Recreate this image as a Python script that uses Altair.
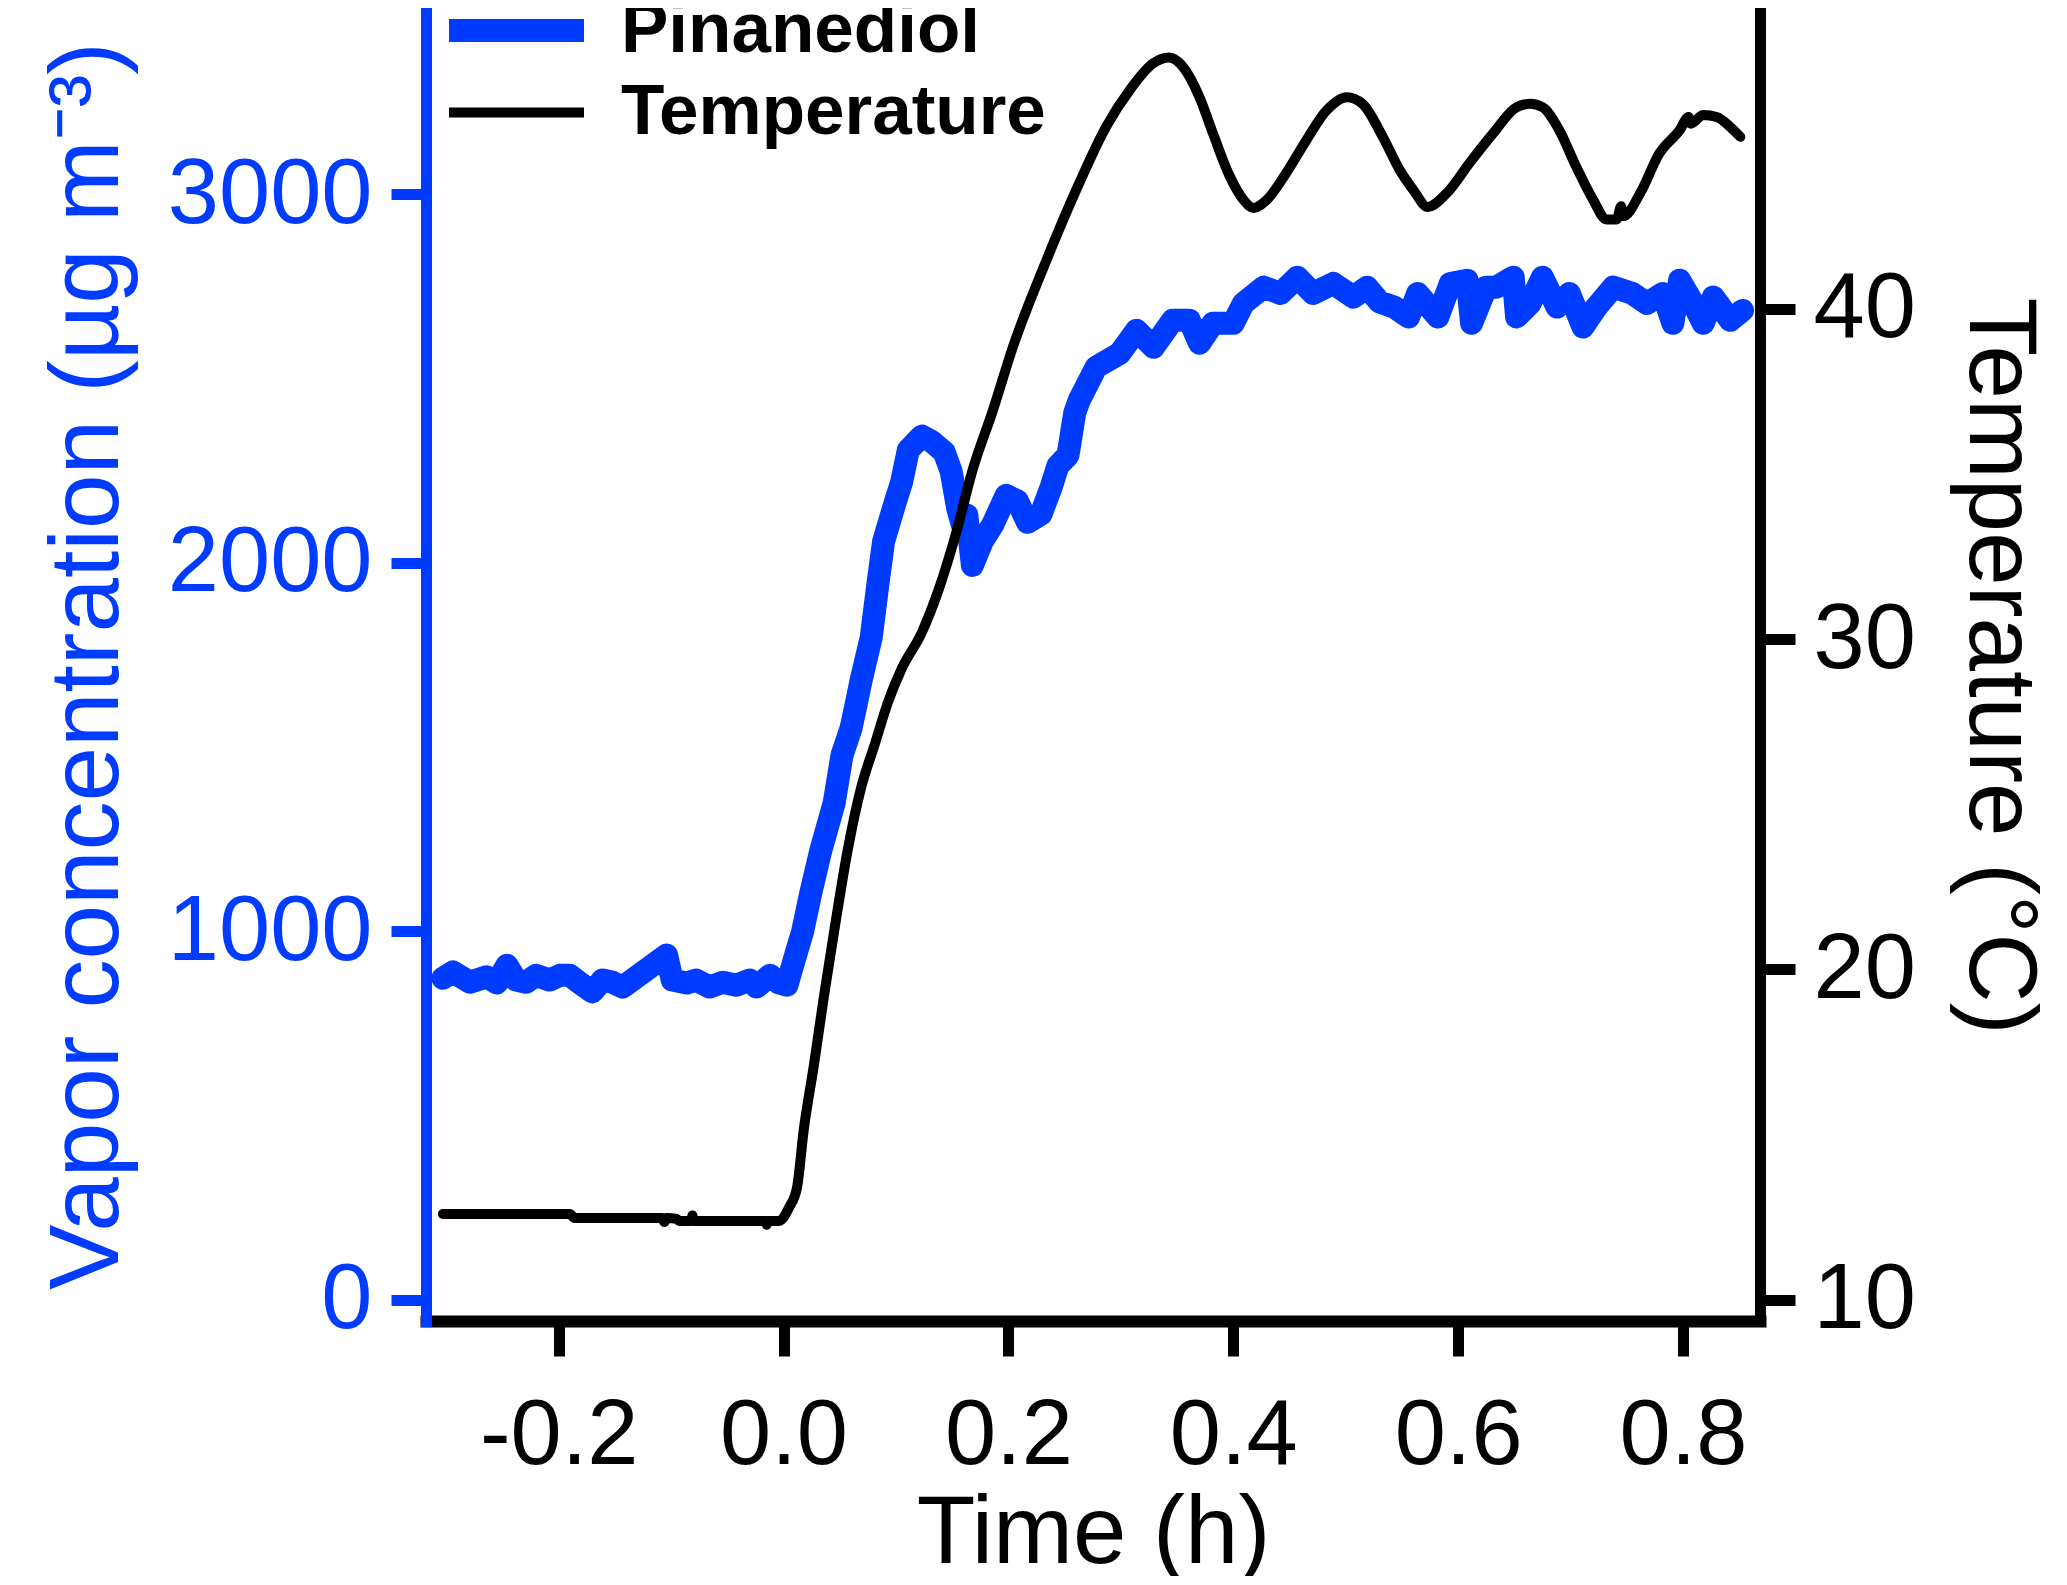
import altair as alt
import pandas as pd

# ---------------- data ----------------
pin_time = [-0.303, -0.294, -0.279, -0.264, -0.255, -0.246, -0.238, -0.229, -0.220, -0.208,
            -0.199, -0.190, -0.181, -0.170, -0.161, -0.152, -0.143, -0.104, -0.099, -0.086,
            -0.078, -0.066, -0.054, -0.042, -0.030, -0.024, -0.012, -0.004, 0.003, 0.012,
            0.017, 0.024, 0.033, 0.045, 0.052, 0.060, 0.064, 0.069, 0.078, 0.084,
            0.089, 0.099, 0.105, 0.111, 0.123, 0.132, 0.143, 0.149, 0.155, 0.159,
            0.163, 0.168, 0.177, 0.186, 0.198, 0.208, 0.217, 0.229, 0.238, 0.244,
            0.253, 0.259, 0.263, 0.278, 0.299, 0.314, 0.329, 0.346, 0.361, 0.370,
            0.382, 0.400, 0.409, 0.427, 0.442, 0.457, 0.471, 0.489, 0.507, 0.519,
            0.530, 0.543, 0.556, 0.564, 0.582, 0.593, 0.608, 0.612, 0.625, 0.634,
            0.649, 0.652, 0.664, 0.675, 0.688, 0.699, 0.711, 0.723, 0.738, 0.755,
            0.768, 0.782, 0.791, 0.797, 0.809, 0.818, 0.827, 0.842, 0.853]
pin_conc = [873, 890, 862, 877, 860, 908, 868, 862, 881, 868,
            881, 881, 860, 836, 868, 862, 849, 936, 868, 860,
            868, 849, 862, 854, 868, 849, 881, 860, 854, 949,
            1000, 1101, 1218, 1348, 1478, 1551, 1608, 1681, 1798, 1944,
            2058, 2161, 2219, 2306, 2344, 2329, 2300, 2249, 2147, 2103,
            2130, 1993, 2060, 2103, 2183, 2168, 2110, 2132, 2205, 2263,
            2292, 2407, 2441, 2531, 2568, 2631, 2585, 2658, 2658, 2596,
            2650, 2650, 2704, 2748, 2731, 2775, 2731, 2758, 2721, 2748,
            2708, 2694, 2667, 2731, 2667, 2758, 2767, 2650, 2748, 2748,
            2775, 2667, 2704, 2775, 2694, 2731, 2640, 2694, 2748, 2731,
            2704, 2731, 2650, 2767, 2704, 2650, 2721, 2658, 2685]

temp_time = [-0.303, -0.190, -0.186, -0.108, -0.106, -0.104, -0.095, -0.093, -0.082, -0.081,
             -0.080, -0.016, -0.015, -0.014, -0.004, 0.005, 0.012, 0.018, 0.027, 0.036,
             0.045, 0.057, 0.069, 0.081, 0.093, 0.105, 0.123, 0.138, 0.153, 0.168,
             0.186, 0.204, 0.234, 0.263, 0.287, 0.308, 0.329, 0.343, 0.355, 0.370,
             0.382, 0.397, 0.409, 0.418, 0.430, 0.447, 0.465, 0.483, 0.501, 0.515,
             0.533, 0.548, 0.560, 0.573, 0.590, 0.610, 0.631, 0.652, 0.664, 0.675,
             0.690, 0.705, 0.720, 0.732, 0.741, 0.745, 0.747, 0.762, 0.779, 0.797,
             0.805, 0.807, 0.818, 0.830, 0.842, 0.851]
temp_vals = [12.60, 12.60, 12.48, 12.48, 12.36, 12.48, 12.45, 12.39, 12.39, 12.55,
             12.39, 12.39, 12.27, 12.39, 12.39, 12.8, 13.4, 15.15, 17.1, 19.2,
             21.15, 23.6, 25.5, 26.8, 28.1, 29.1, 30.2, 31.5, 33.15, 35.1,
             36.9, 38.84, 41.48, 43.8, 45.51, 46.62, 47.43, 47.6, 47.33, 46.4,
             45.3, 44.0, 43.3, 43.05, 43.3, 44.1, 45.1, 46.0, 46.4, 46.2,
             45.2, 44.2, 43.6, 43.08, 43.5, 44.4, 45.3, 46.1, 46.2, 46.1,
             45.4, 44.3, 43.3, 42.7, 42.7, 43.1, 42.8, 43.5, 44.7, 45.4,
             45.8, 45.6, 45.86, 45.8, 45.5, 45.2]

series_names = ["Pinanediol", "Temperature"]
x_ticks = [-0.2, 0.0, 0.2, 0.4, 0.6, 0.8]
conc_ticks = [0, 1000, 2000, 3000]
temp_ticks = [10, 20, 30, 40]

# ---------------- styling ----------------
BLUE = "#003CFF"
FONT = "Liberation Sans"

df_p = pd.DataFrame({"time": pin_time, "value": pin_conc, "series": series_names[0]})
df_t = pd.DataFrame({"time": temp_time, "value": temp_vals, "series": series_names[1]})

color_scale = alt.Scale(domain=series_names, range=[BLUE, "black"])
width_scale = alt.Scale(type="ordinal", domain=series_names, range=[23, 10])

x_enc = alt.X(
    "time:Q",
    scale=alt.Scale(domain=[-0.318, 0.8685], nice=False, zero=False),
    axis=alt.Axis(
        title="Time (h)", values=x_ticks, format=".1f",
        labelExpr="replace(datum.label, '\u2212', '-')",
        labelFont=FONT, labelFontSize=92, labelColor="black", labelPadding=34,
        labelLimit=1000,
        titleFont=FONT, titleFontSize=96, titleFontWeight="normal", titleColor="black",
        titlePadding=5,
        tickSize=35, tickWidth=11, tickColor="black",
        domainColor="black", domainWidth=12, domainCap="square",
    ),
)

# wide flat legend line: path spans 3x the nominal symbol box
legend = alt.Legend(
    orient="none", legendX=55, legendY=-15, title=None, padding=0,
    labelFont=FONT, labelFontSize=71, labelFontWeight="bold", labelColor="black",
    labelLimit=1000,
    symbolType="M-3,0H3", symbolSize=2025, labelOffset=69, rowPadding=-2,
)

pin = alt.Chart(df_p).mark_line(strokeCap="round", strokeJoin="round").encode(
    x=x_enc,
    y=alt.Y(
        "value:Q",
        scale=alt.Scale(domain=[-57, 3500], nice=False, zero=False),
        axis=alt.Axis(
            orient="left", title="Vapor concentration (µg m⁻³)", values=conc_ticks, format="d",
            labelFont=FONT, labelFontSize=92, labelColor=BLUE, labelPadding=19,
            labelLimit=1000,
            titleFont=FONT, titleFontSize=98, titleFontWeight="normal", titleColor=BLUE,
            titlePadding=88,
            tickSize=35, tickWidth=11, tickColor=BLUE,
            domainColor=BLUE, domainWidth=11, domainCap="square",
        ),
    ),
    color=alt.Color("series:N", scale=color_scale, legend=legend),
    strokeWidth=alt.StrokeWidth("series:N", scale=width_scale, legend=legend),
)

temp = alt.Chart(df_t).mark_line(strokeCap="round", strokeJoin="round", interpolate="monotone").encode(
    x=x_enc,
    y=alt.Y(
        "value:Q",
        scale=alt.Scale(domain=[9.36, 49.04], nice=False, zero=False),
        axis=alt.Axis(
            orient="right", title="Temperature (°C)", values=temp_ticks, format="d",
            labelFont=FONT, labelFontSize=92, labelColor="black", labelPadding=18,
            labelLimit=1000,
            titleFont=FONT, titleFontSize=96, titleFontWeight="normal", titleColor="black",
            titlePadding=34,
            tickSize=35, tickWidth=11, tickColor="black",
            domainColor="black", domainWidth=11, domainCap="square",
        ),
    ),
    color=alt.Color("series:N", scale=color_scale, legend=legend),
    strokeWidth=alt.StrokeWidth("series:N", scale=width_scale, legend=legend),
)

chart = (
    alt.layer(pin, temp)
    .resolve_scale(y="independent")
    .properties(
        width=1334, height=1311,
        autosize=alt.AutoSizeParams(type="none"),
        padding={"left": 418, "top": 2, "right": 297, "bottom": 255},
        background="white",
    )
    .configure_axis(grid=False)
    .configure_view(stroke="transparent")
)

chart.save("out.html", embed_options={"renderer": "svg", "actions": False})
